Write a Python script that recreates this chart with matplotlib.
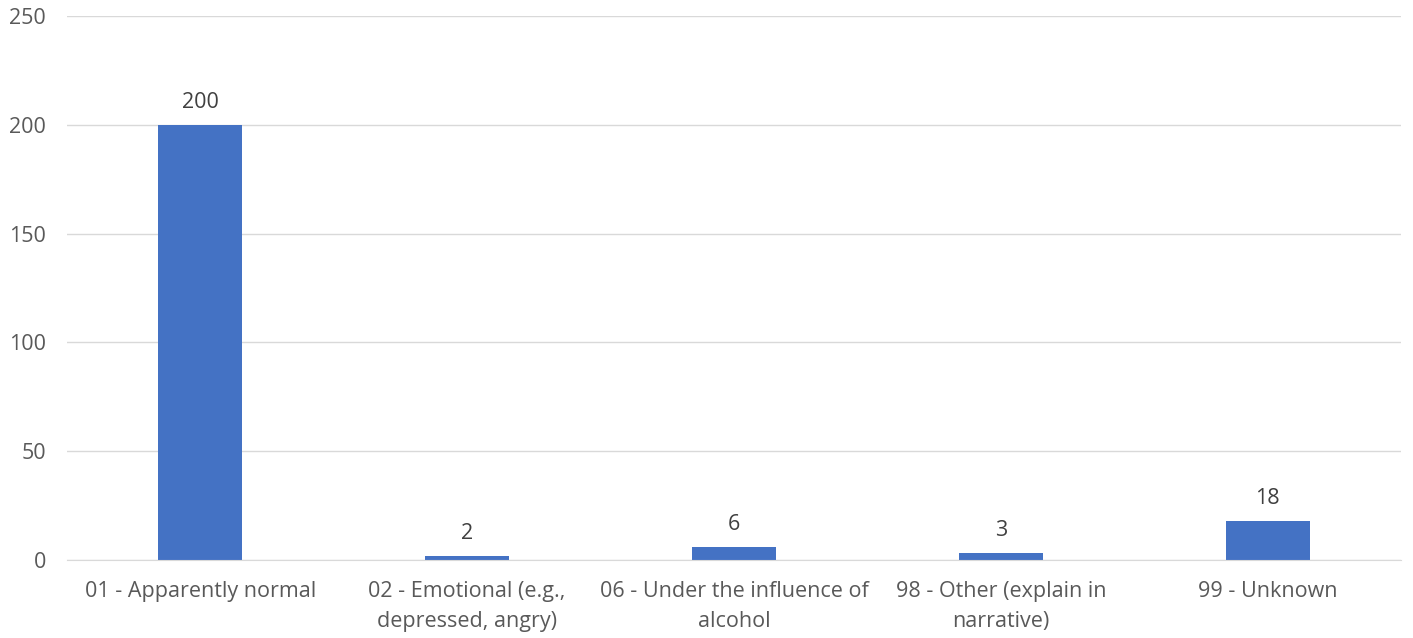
import matplotlib.pyplot as plt
import numpy as np

# Chart data
categories = ['01 - Apparently normal', '02 - Emotional (e.g.,\ndepressed, angry)',
              '06 - Under the influence of\nalcohol', '98 - Other (explain in\nnarrative)',
              '99 - Unknown']
counts = [200, 2, 6, 3, 18]
yticks = [0, 50, 100, 150, 200, 250]

plt.rcParams['font.family'] = ['Open Sans', 'DejaVu Sans']
text_color = '#595959'
fs = 15.5

fig = plt.figure(figsize=(14.13, 6.38), dpi=100)
ax = fig.add_axes([0.0474, 0.1223, 0.9441, 0.8526])

x = np.arange(len(categories))
ax.bar(x, counts, width=0.315, color='#4472C4', zorder=3)

for xi, v in zip(x, counts):
    ax.text(xi, v + 5.5, str(v), ha='center', va='bottom', fontsize=fs, color='#404040')

ax.set_xlim(-0.5, len(categories) - 0.5)
ax.set_ylim(0, 250)
ax.set_yticks(yticks)
ax.set_xticks(x)
ax.set_xticklabels(categories, fontsize=fs, color=text_color, linespacing=1.6,
                   multialignment='center')
ax.tick_params(axis='y', labelsize=fs, labelcolor=text_color, length=0, pad=15)
ax.tick_params(axis='x', length=0, pad=15)

ax.grid(axis='y', color='#D9D9D9', linewidth=1, zorder=0)
for side in ['top', 'right', 'left']:
    ax.spines[side].set_visible(False)
ax.spines['bottom'].set_color('#D9D9D9')
ax.spines['bottom'].set_zorder(4)

fig.savefig('out.png', dpi=100)
